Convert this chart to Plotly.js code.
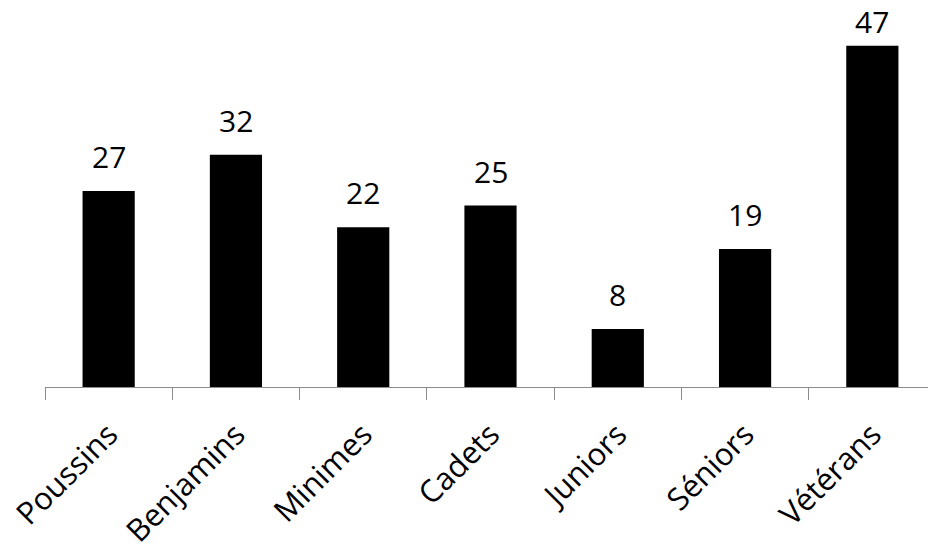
<!DOCTYPE html>
<html><head><meta charset="utf-8">
<script src="https://cdn.plot.ly/plotly-3.0.1.min.js"></script>
<style>html,body{margin:0;padding:0;overflow:hidden;background:#fff}</style>
</head><body>
<div id="chart"></div>
<script>
const categories = ["Poussins", "Benjamins", "Minimes", "Cadets", "Juniors", "Séniors", "Vétérans"];
const values = [27, 32, 22, 25, 8, 19, 47];

const FONT = "'Open Sans', Lato, sans-serif";
const maxVal = Math.max(...values);

const annotations = categories.map((c, i) => ({
  x: c, y: values[i], text: String(values[i]),
  xref: 'x', yref: 'y', showarrow: false,
  yanchor: 'bottom', yshift: values[i] === maxVal ? 2 : 12,
  font: {family: FONT, size: 30, color: '#000'}
}));

Plotly.newPlot('chart', [{
  type: 'bar', x: categories, y: values,
  marker: {color: '#000', line: {width: 0}},
  hoverinfo: 'skip', cliponaxis: false
}], {
  width: 940, height: 544,
  margin: {l: 45, r: 4, t: 24, b: 157},
  paper_bgcolor: '#fff', plot_bgcolor: '#fff',
  bargap: 0.59,
  showlegend: false,
  font: {family: FONT, color: '#000'},
  xaxis: {
    type: 'category', showline: true, linecolor: '#8c8c8c', linewidth: 1,
    ticks: 'outside', tickson: 'boundaries', ticklen: 12, tickcolor: '#8c8c8c', tickwidth: 1,
    tickangle: -45, tickfont: {family: FONT, size: 31, color: '#000'},
    ticklabelstandoff: 16,
    showgrid: false, zeroline: false, fixedrange: true
  },
  yaxis: {
    range: [0, 50], visible: false, showgrid: false, zeroline: false, fixedrange: true
  },
  annotations: annotations
}, {displayModeBar: false, staticPlot: true});
</script>
</body></html>
